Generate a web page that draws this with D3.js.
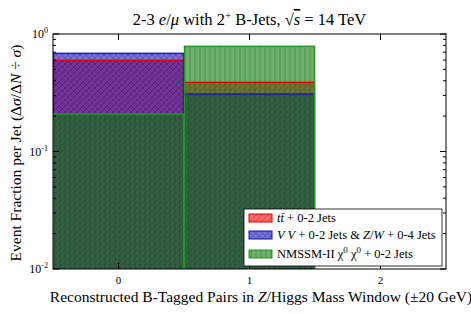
<!DOCTYPE html>
<html>
<head>
<meta charset="utf-8">
<script src="https://cdn.jsdelivr.net/npm/d3@7"></script>
<style>
  body { margin: 0; background: #fff; }
  svg text { font-family: "Liberation Serif", "DejaVu Serif", serif; fill: #000; }
</style>
</head>
<body>
<svg id="chart" width="471" height="314"></svg>
<script>
// values (fraction per bin)
var bins = [0, 1];
var ttbar = [0.597, 0.388];
var vv = [0.685, 0.308];
var nmssm = [0.208, 0.785];
var yTicks = [1e-2, 1e-1, 1e0];
var xTicks = [0, 1, 2];

var margins = {top: 34, right: 25, bottom: 45, left: 53},
    width = 471 - margins.left - margins.right,
    height = 314 - margins.top - margins.bottom;

var svg = d3.select("#chart");

var xScale = d3.scaleLinear().domain([-0.5, 2.5]).range([0, width]);
var yScale = d3.scaleLog().domain([1e-2, 1]).range([height, 0]);

// hatch patterns
var defs = svg.append("defs");
function hatch(id, stroke, paths, size) {
    var p = defs.append("pattern")
        .attr("id", id)
        .attr("patternUnits", "userSpaceOnUse")
        .attr("width", size).attr("height", size);
    paths.forEach(function(d) {
        p.append("path").attr("d", d)
            .attr("stroke", stroke).attr("stroke-width", 0.7).attr("fill", "none");
    });
}
hatch("h-red", "rgba(150,0,0,0.45)", ["M0,6 L6,0", "M-1,1 L1,-1", "M5,7 L7,5"], 6);
hatch("h-blue", "rgba(30,0,90,0.35)", ["M0,6 L6,0", "M0,0 L6,6"], 6);
hatch("h-green", "rgba(0,50,0,0.4)", ["M2,0 L2,5"], 5);

var series = [
    {name: "tt", values: ttbar, fill: "rgb(255,0,0)", edge: "#e00000", hatch: "h-red"},
    {name: "vv", values: vv, fill: "rgb(25,20,185)", edge: "#1010c0", hatch: "h-blue"},
    {name: "nmssm", values: nmssm, fill: "rgb(12,125,12)", edge: "#229922", hatch: "h-green"}
];

var g = svg.append("g").attr("transform", "translate(" + margins.left + "," + margins.top + ")");

g.append("clipPath").attr("id", "clip")
    .append("rect").attr("width", width).attr("height", height);

var plot = g.append("g").attr("clip-path", "url(#clip)");

series.forEach(function(s) {
    var sel = plot.append("g").attr("class", "bars " + s.name);
    bins.forEach(function(b, i) {
        var x0 = xScale(b - 0.5), x1 = xScale(b + 0.5), y0 = yScale(s.values[i]);
        sel.append("rect")
            .attr("x", x0).attr("width", x1 - x0)
            .attr("y", y0).attr("height", height - y0 + 2)
            .attr("fill", s.fill).attr("fill-opacity", 0.6);
        sel.append("rect")
            .attr("x", x0).attr("width", x1 - x0)
            .attr("y", y0).attr("height", height - y0 + 2)
            .attr("fill", "url(#" + s.hatch + ")");
    });
});

// bar edges on top
series.forEach(function(s) {
    bins.forEach(function(b, i) {
        var x0 = xScale(b - 0.5), x1 = xScale(b + 0.5), y0 = yScale(s.values[i]);
        plot.append("rect")
            .attr("x", x0 + 0.5).attr("width", x1 - x0 - 1)
            .attr("y", y0).attr("height", height - y0 + 4)
            .attr("fill", "none")
            .attr("stroke", s.edge).attr("stroke-width", s.name == "nmssm" ? 1.5 : 1.3);
    });
});

// axes frame
g.append("rect").attr("width", width).attr("height", height)
    .attr("fill", "none").attr("stroke", "#000").attr("stroke-width", 1);

// log ticks
var minor = [];
[1e-2, 1e-1].forEach(function(dec) {
    for (var k = 2; k < 10; k++) minor.push(dec * k);
});
[0, width].forEach(function(xx) {
    var dir = xx == 0 ? 1 : -1;
    yTicks.forEach(function(t) {
        g.append("line").attr("x1", xx).attr("x2", xx + dir * 6)
            .attr("y1", yScale(t)).attr("y2", yScale(t)).attr("stroke", "#000");
    });
    minor.forEach(function(t) {
        g.append("line").attr("x1", xx).attr("x2", xx + dir * 3)
            .attr("y1", yScale(t)).attr("y2", yScale(t)).attr("stroke", "#000");
    });
});
xTicks.forEach(function(t) {
    g.append("line").attr("x1", xScale(t)).attr("x2", xScale(t))
        .attr("y1", height).attr("y2", height - 6).attr("stroke", "#000");
    g.append("line").attr("x1", xScale(t)).attr("x2", xScale(t))
        .attr("y1", 0).attr("y2", 6).attr("stroke", "#000");
    g.append("text").attr("x", xScale(t)).attr("y", height + 15)
        .attr("text-anchor", "middle").style("font-size", "11px").text(t);
});

yTicks.forEach(function(t) {
    var e = Math.round(Math.log10(t));
    var tx = g.append("text").attr("x", -5).attr("y", yScale(t) + 4)
        .attr("text-anchor", "end").style("font-size", "12px");
    tx.append("tspan").text("10");
    tx.append("tspan").attr("dy", -5).style("font-size", "8px").text(e);
});

// title
var title = svg.append("text").attr("x", margins.left + width / 2).attr("y", 25)
    .attr("text-anchor", "middle").style("font-size", "16.5px");
title.append("tspan").text("2-3 ");
title.append("tspan").style("font-style", "italic").text("e");
title.append("tspan").text("/");
title.append("tspan").style("font-style", "italic").text("μ");
title.append("tspan").text(" with 2");
title.append("tspan").attr("dy", -6).style("font-size", "11px").text("+");
title.append("tspan").attr("dy", 6).text("  B-Jets, √");
title.append("tspan").style("font-style", "italic").style("text-decoration", "overline").text("s");
title.append("tspan").text(" = 14 TeV");

// x label
var xl = svg.append("text").attr("x", 261).attr("y", 302)
    .attr("text-anchor", "middle").style("font-size", "15.5px");
xl.append("tspan").text("Reconstructed B-Tagged Pairs in ");
xl.append("tspan").style("font-style", "italic").text("Z");
xl.append("tspan").text("/Higgs Mass Window (±20 GeV)");

// y label
var yl = svg.append("text").attr("transform", "translate(21,153) rotate(-90)")
    .attr("text-anchor", "middle").style("font-size", "15.5px");
yl.append("tspan").text("Event Fraction per Jet  (Δ");
yl.append("tspan").style("font-style", "italic").text("σ");
yl.append("tspan").text("/Δ");
yl.append("tspan").style("font-style", "italic").text("N");
yl.append("tspan").text(" ÷ ");
yl.append("tspan").style("font-style", "italic").text("σ");
yl.append("tspan").text(")");

// legend
var lg = svg.append("g").attr("transform", "translate(244,209)");
lg.append("rect").attr("width", 198).attr("height", 57)
    .attr("fill", "#fff").attr("stroke", "#000").attr("stroke-width", 0.8);
var rows = [
    [["t", "i"], ["t̄", "i"], [" + 0-2 Jets", ""]],
    [["V V", "i"], [" + 0-2 Jets & ", ""], ["Z", "i"], ["/", ""], ["W", "i"], [" + 0-4 Jets", ""]],
    [["NMSSM-II χ", ""], ["0", "sup"], [" χ", ""], ["0", "sup"], ["  + 0-2 Jets", ""]]
];
var rowY = [9, 26, 45];
series.forEach(function(s, i) {
    lg.append("rect").attr("x", 5).attr("y", rowY[i] - 4).attr("width", 23).attr("height", 8)
        .attr("fill", s.fill).attr("fill-opacity", 0.6).attr("stroke", s.edge);
    lg.append("rect").attr("x", 5).attr("y", rowY[i] - 4).attr("width", 23).attr("height", 8)
        .attr("fill", "url(#" + s.hatch + ")");
    var t = lg.append("text").attr("x", 33).attr("y", rowY[i] + 4).style("font-size", "12.5px");
    var up = false;
    rows[i].forEach(function(p) {
        var sp = t.append("tspan").text(p[0]);
        if (p[1] == "i") sp.style("font-style", "italic");
        if (p[1] == "sup") { sp.attr("dy", -5).style("font-size", "9px"); up = true; }
        else if (up) { sp.attr("dy", 5); up = false; }
    });
});
</script>
</body>
</html>
